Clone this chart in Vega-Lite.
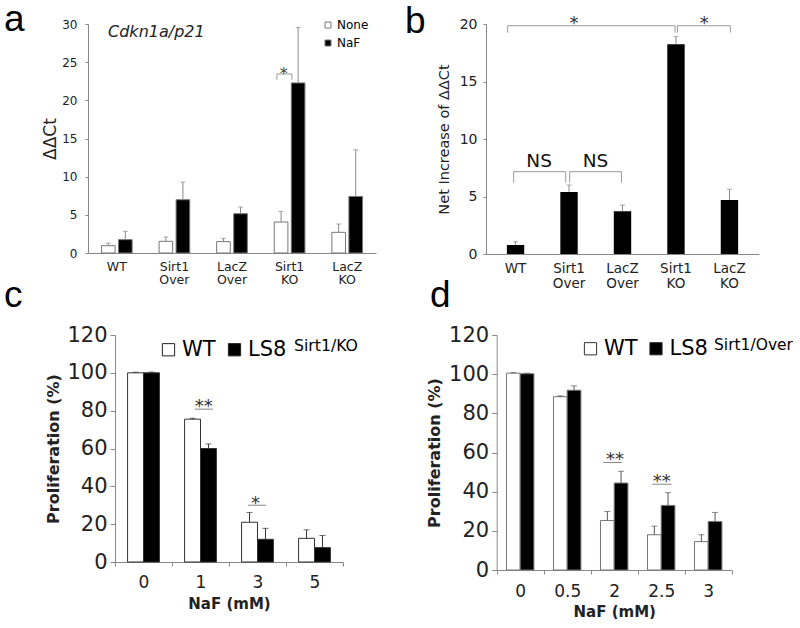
{
  "$schema": "https://vega.github.io/schema/vega-lite/v6.json",
  "background": "white",
  "padding": {"left": 4, "top": 0, "right": 0, "bottom": 0},
  "bounds": "flush",
  "columns": 2,
  "spacing": {"row": 81, "column": 110},
  "resolve": {"scale": {"fill": "independent", "xOffset": "independent"}, "legend": {"fill": "independent"}},
  "config": {
    "font": "DejaVu Sans",
    "view": {"stroke": null},
    "axis": {"domainColor": "#888", "tickColor": "#888", "labelColor": "#222", "titleColor": "#222", "grid": false, "titleFontWeight": "normal", "labelOverlap": false},
    "title": {"anchor": "start", "frame": "group", "fontSize": 37, "fontWeight": "normal", "font": "Liberation Sans", "baseline": "alphabetic", "offset": 0, "color": "#000"},
    "legend": {"padding": 0, "labelColor": "#000", "titleColor": "#000"}
  },
  "datasets": {
    "a": [
      {"group": "WT", "treat": "None", "value": 0.96, "hi": 1.3},
      {"group": "WT", "treat": "NaF", "value": 1.75, "hi": 2.84},
      {"group": "Sirt1 Over", "treat": "None", "value": 1.53, "hi": 2.1},
      {"group": "Sirt1 Over", "treat": "NaF", "value": 6.98, "hi": 9.29},
      {"group": "LacZ Over", "treat": "None", "value": 1.49, "hi": 1.92},
      {"group": "LacZ Over", "treat": "NaF", "value": 5.15, "hi": 6.02},
      {"group": "Sirt1 KO", "treat": "None", "value": 4.06, "hi": 5.45},
      {"group": "Sirt1 KO", "treat": "NaF", "value": 22.28, "hi": 29.55},
      {"group": "LacZ KO", "treat": "None", "value": 2.71, "hi": 3.8},
      {"group": "LacZ KO", "treat": "NaF", "value": 7.41, "hi": 13.52}
    ],
    "aLines": [
      {"x": 2.78, "x2": 3.04, "y": 23.45, "y2": 23.45},
      {"x": 2.78, "x2": 2.78, "y": 22.7, "y2": 23.45},
      {"x": 3.04, "x2": 3.04, "y": 22.7, "y2": 23.45}
    ],
    "aStar": [{"x": 2.9, "y": 22.82, "t": "*"}],
    "aGene": [{"x": -0.152, "y": 28.34, "t": "Cdkn1a/p21"}],
    "b": [
      {"group": "WT", "value": 0.78, "hi": 1.07},
      {"group": "Sirt1 Over", "value": 5.4, "hi": 6.0},
      {"group": "LacZ Over", "value": 3.71, "hi": 4.26},
      {"group": "Sirt1 KO", "value": 18.25, "hi": 18.9},
      {"group": "LacZ KO", "value": 4.7, "hi": 5.63}
    ],
    "bLines": [
      {"x": -0.147, "x2": 2.983, "y": 19.85, "y2": 19.85},
      {"x": -0.147, "x2": -0.147, "y": 19.25, "y2": 19.85},
      {"x": 2.983, "x2": 2.983, "y": 19.25, "y2": 19.85},
      {"x": 3.026, "x2": 4.017, "y": 19.85, "y2": 19.85},
      {"x": 3.026, "x2": 3.026, "y": 19.25, "y2": 19.85},
      {"x": 4.017, "x2": 4.017, "y": 19.25, "y2": 19.85},
      {"x": -0.035, "x2": 0.939, "y": 7.16, "y2": 7.16},
      {"x": -0.035, "x2": -0.035, "y": 6.2, "y2": 7.16},
      {"x": 0.939, "x2": 0.939, "y": 6.2, "y2": 7.16},
      {"x": 1.013, "x2": 1.98, "y": 7.16, "y2": 7.16},
      {"x": 1.013, "x2": 1.013, "y": 6.2, "y2": 7.16},
      {"x": 1.98, "x2": 1.98, "y": 6.2, "y2": 7.16}
    ],
    "bStar": [{"x": 1.093, "y": 19.56, "t": "*"}, {"x": 3.528, "y": 19.56, "t": "*"}],
    "bNS": [{"x": 0.442, "y": 7.57, "t": "NS"}, {"x": 1.496, "y": 7.57, "t": "NS"}],
    "c": [
      {"conc": "0", "series": "WT", "value": 100, "hi": 100.3},
      {"conc": "0", "series": "LS8", "value": 100, "hi": 100.4},
      {"conc": "1", "series": "WT", "value": 75.5, "hi": 76},
      {"conc": "1", "series": "LS8", "value": 60, "hi": 62.4},
      {"conc": "3", "series": "WT", "value": 21, "hi": 26.2},
      {"conc": "3", "series": "LS8", "value": 12, "hi": 17.8},
      {"conc": "5", "series": "WT", "value": 12.5, "hi": 17},
      {"conc": "5", "series": "LS8", "value": 7.6, "hi": 14}
    ],
    "cLines": [
      {"x": 0.899, "x2": 1.219, "y": 80.8, "y2": 80.8},
      {"x": 1.83, "x2": 2.15, "y": 30, "y2": 30}
    ],
    "cStar": [{"x": 1.056, "y": 79.25, "t": "**"}, {"x": 1.965, "y": 28.06, "t": "*"}],
    "d": [
      {"conc": "0", "series": "WT", "value": 100.5, "hi": 100.8},
      {"conc": "0", "series": "LS8", "value": 100.2, "hi": 100.5},
      {"conc": "0.5", "series": "WT", "value": 88.5, "hi": 88.9},
      {"conc": "0.5", "series": "LS8", "value": 91.8, "hi": 94},
      {"conc": "2", "series": "WT", "value": 25.3, "hi": 29.9},
      {"conc": "2", "series": "LS8", "value": 44.4, "hi": 50.4},
      {"conc": "2.5", "series": "WT", "value": 18, "hi": 22.4},
      {"conc": "2.5", "series": "LS8", "value": 33, "hi": 39.5},
      {"conc": "3", "series": "WT", "value": 14.5, "hi": 18},
      {"conc": "3", "series": "LS8", "value": 24.8, "hi": 29.4}
    ],
    "dLines": [
      {"x": 1.768, "x2": 2.16, "y": 54.9, "y2": 54.9},
      {"x": 2.81, "x2": 3.22, "y": 43.8, "y2": 43.8}
    ],
    "dStar": [{"x": 2.017, "y": 53.7, "t": "**"}, {"x": 3.01, "y": 42.6, "t": "**"}]
  },
  "concat": [
    {
      "width": 288,
      "height": 229,
      "title": {"text": "a", "dx": -84, "dy": 24.5},
      "layer": [
        {
          "data": {"name": "a"},
          "encoding": {
            "x": {"field": "group", "type": "nominal", "sort": ["WT", "Sirt1 Over", "LacZ Over", "Sirt1 KO", "LacZ KO"], "scale": {"paddingInner": 0, "paddingOuter": 0}, "axis": {"title": null, "labelAngle": 0, "labelExpr": "split(datum.label, ' ')", "labelBaseline": "top", "labelLineHeight": 13.5, "labelFontSize": 12.5, "labelPadding": 7, "ticks": false}},
            "xOffset": {"field": "treat", "type": "nominal", "sort": ["None", "NaF"], "scale": {"paddingInner": 0.2, "paddingOuter": 0.79}},
            "y": {"field": "value", "type": "quantitative", "scale": {"domain": [0, 30], "nice": false}, "axis": {"title": "ΔΔCt", "values": [0, 5, 10, 15, 20, 25, 30], "labelOverlap": false, "tickSize": 3, "labelPadding": 8, "labelFontSize": 12, "titleFontSize": 17, "titlePadding": 2}}
          },
          "layer": [
            {"mark": {"type": "bar", "stroke": "#777", "strokeWidth": 1}, "encoding": {"fill": {"field": "treat", "type": "nominal", "scale": {"domain": ["None", "NaF"], "range": ["#ffffff", "#000000"]}, "legend": {"title": null, "orient": "none", "legendX": 234, "legendY": -5, "direction": "vertical", "symbolType": "square", "symbolSize": 36, "symbolStrokeColor": "#777", "symbolStrokeWidth": 1, "labelFontSize": 12, "labelOffset": 3, "rowPadding": 6}}}},
            {"mark": {"type": "rule", "color": "#888"}, "encoding": {"y2": {"field": "hi"}}},
            {"mark": {"type": "tick", "color": "#888", "size": 5, "thickness": 1}, "encoding": {"y": {"field": "hi", "type": "quantitative", "scale": {"domain": [0, 30], "nice": false}, "axis": {"title": "ΔΔCt", "values": [0, 5, 10, 15, 20, 25, 30], "labelOverlap": false, "tickSize": 3, "labelPadding": 8, "labelFontSize": 12, "titleFontSize": 17, "titlePadding": 2}}}}
          ]
        },
        {
          "layer": [
            {"data": {"name": "aLines"}, "mark": {"type": "rule", "color": "#999"}, "encoding": {"x": {"field": "x", "type": "quantitative", "scale": {"domain": [-0.5, 4.5], "nice": false, "zero": false}, "axis": null}, "x2": {"field": "x2"}, "y": {"field": "y", "type": "quantitative", "scale": {"domain": [0, 30], "nice": false}, "axis": {"title": "ΔΔCt", "values": [0, 5, 10, 15, 20, 25, 30], "labelOverlap": false, "tickSize": 3, "labelPadding": 8, "labelFontSize": 12, "titleFontSize": 17, "titlePadding": 2}}, "y2": {"field": "y2"}}},
            {"data": {"name": "aStar"}, "mark": {"type": "text", "fontSize": 16, "color": "#444", "align": "center", "baseline": "alphabetic"}, "encoding": {"x": {"field": "x", "type": "quantitative", "scale": {"domain": [-0.5, 4.5], "nice": false, "zero": false}, "axis": null}, "y": {"field": "y", "type": "quantitative", "scale": {"domain": [0, 30], "nice": false}, "axis": {"title": "ΔΔCt", "values": [0, 5, 10, 15, 20, 25, 30], "labelOverlap": false, "tickSize": 3, "labelPadding": 8, "labelFontSize": 12, "titleFontSize": 17, "titlePadding": 2}}, "text": {"field": "t"}}},
            {"data": {"name": "aGene"}, "mark": {"type": "text", "fontSize": 16, "fontStyle": "italic", "color": "#222", "align": "left", "baseline": "alphabetic"}, "encoding": {"x": {"field": "x", "type": "quantitative", "scale": {"domain": [-0.5, 4.5], "nice": false, "zero": false}, "axis": null}, "y": {"field": "y", "type": "quantitative", "scale": {"domain": [0, 30], "nice": false}, "axis": {"title": "ΔΔCt", "values": [0, 5, 10, 15, 20, 25, 30], "labelOverlap": false, "tickSize": 3, "labelPadding": 8, "labelFontSize": 12, "titleFontSize": 17, "titlePadding": 2}}, "text": {"field": "t"}}}
          ]
        }
      ],
      "resolve": {"scale": {"x": "independent"}}
    },
    {
      "width": 273,
      "height": 230,
      "title": {"text": "b", "dx": -81, "dy": 29.5},
      "layer": [
        {
          "data": {"name": "b"},
          "encoding": {
            "x": {"field": "group", "type": "nominal", "sort": ["WT", "Sirt1 Over", "LacZ Over", "Sirt1 KO", "LacZ KO"], "scale": {"paddingInner": 0.675, "paddingOuter": 0.39}, "axis": {"title": null, "labelAngle": 0, "labelExpr": "split(datum.label, ' ')", "labelBaseline": "top", "labelLineHeight": 15.5, "labelFontSize": 13.5, "labelPadding": 7, "ticks": false}},
            "y": {"field": "value", "type": "quantitative", "scale": {"domain": [0, 20], "nice": false}, "axis": {"title": "Net Increase of ΔΔCt", "values": [0, 5, 10, 15, 20], "labelOverlap": false, "tickSize": 3, "labelPadding": 6, "labelFontSize": 14, "titleFontSize": 14.5, "titlePadding": 8}}
          },
          "layer": [
            {"mark": {"type": "bar", "color": "#000"}},
            {"mark": {"type": "rule", "color": "#888"}, "encoding": {"y2": {"field": "hi"}}},
            {"mark": {"type": "tick", "color": "#888", "size": 5, "thickness": 1}, "encoding": {"y": {"field": "hi", "type": "quantitative", "scale": {"domain": [0, 20], "nice": false}, "axis": {"title": "Net Increase of ΔΔCt", "values": [0, 5, 10, 15, 20], "labelOverlap": false, "tickSize": 3, "labelPadding": 6, "labelFontSize": 14, "titleFontSize": 14.5, "titlePadding": 8}}}}
          ]
        },
        {
          "layer": [
            {"data": {"name": "bLines"}, "mark": {"type": "rule", "color": "#999"}, "encoding": {"x": {"field": "x", "type": "quantitative", "scale": {"domain": [-0.552, 4.552], "nice": false, "zero": false}, "axis": null}, "x2": {"field": "x2"}, "y": {"field": "y", "type": "quantitative", "scale": {"domain": [0, 20], "nice": false}, "axis": {"title": "Net Increase of ΔΔCt", "values": [0, 5, 10, 15, 20], "labelOverlap": false, "tickSize": 3, "labelPadding": 6, "labelFontSize": 14, "titleFontSize": 14.5, "titlePadding": 8}}, "y2": {"field": "y2"}}},
            {"data": {"name": "bStar"}, "mark": {"type": "text", "fontSize": 18, "color": "#333", "align": "center", "baseline": "alphabetic"}, "encoding": {"x": {"field": "x", "type": "quantitative", "scale": {"domain": [-0.552, 4.552], "nice": false, "zero": false}, "axis": null}, "y": {"field": "y", "type": "quantitative", "scale": {"domain": [0, 20], "nice": false}, "axis": {"title": "Net Increase of ΔΔCt", "values": [0, 5, 10, 15, 20], "labelOverlap": false, "tickSize": 3, "labelPadding": 6, "labelFontSize": 14, "titleFontSize": 14.5, "titlePadding": 8}}, "text": {"field": "t"}}},
            {"data": {"name": "bNS"}, "mark": {"type": "text", "fontSize": 18.5, "color": "#111", "align": "center", "baseline": "alphabetic"}, "encoding": {"x": {"field": "x", "type": "quantitative", "scale": {"domain": [-0.552, 4.552], "nice": false, "zero": false}, "axis": null}, "y": {"field": "y", "type": "quantitative", "scale": {"domain": [0, 20], "nice": false}, "axis": {"title": "Net Increase of ΔΔCt", "values": [0, 5, 10, 15, 20], "labelOverlap": false, "tickSize": 3, "labelPadding": 6, "labelFontSize": 14, "titleFontSize": 14.5, "titlePadding": 8}}, "text": {"field": "t"}}}
          ]
        }
      ],
      "resolve": {"scale": {"x": "independent"}}
    },
    {
      "width": 255,
      "height": 227,
      "title": {"text": "c", "dx": -84, "dy": -5},
      "layer": [
        {
          "data": {"name": "c"},
          "encoding": {
            "x": {"field": "conc", "type": "nominal", "sort": ["0", "1", "3", "5"], "scale": {"paddingInner": 0, "paddingOuter": 0, "rangeMin": 27}, "axis": {"title": "NaF (mM)", "labelAngle": 0, "tickBand": "extent", "tickSize": 4, "labelFontSize": 17, "labelPadding": 8, "titleFontSize": 15, "titleFontWeight": "bold", "titlePadding": 6}},
            "xOffset": {"field": "series", "type": "nominal", "sort": ["WT", "LS8"], "scale": {"paddingInner": 0, "paddingOuter": 0.79}},
            "y": {"field": "value", "type": "quantitative", "scale": {"domain": [0, 120], "nice": false}, "axis": {"title": "Proliferation (%)", "values": [0, 20, 40, 60, 80, 100, 120], "labelOverlap": false, "offset": -27, "tickSize": 5, "labelFontSize": 21, "labelPadding": 3, "titleFontSize": 16, "titleFontWeight": "bold", "titlePadding": 5}}
          },
          "layer": [
            {"mark": {"type": "bar", "stroke": "#333", "strokeWidth": 1}, "encoding": {"fill": {"field": "series", "type": "nominal", "scale": {"domain": ["WT", "LS8"], "range": ["#ffffff", "#000000"]}, "legend": {"title": "Sirt1/KO", "titleOrient": "right", "titleAnchor": "start", "titleBaseline": "top", "titleFontSize": 15.7, "titleFontWeight": "normal", "titlePadding": 8, "orient": "none", "legendX": 70, "legendY": 4, "direction": "horizontal", "symbolType": "square", "symbolSize": 150, "symbolStrokeColor": "#222", "symbolStrokeWidth": 1, "labelFontSize": 21, "labelOffset": 3, "columnPadding": 8}}}},
            {"mark": {"type": "rule", "color": "#333"}, "encoding": {"y2": {"field": "hi"}}},
            {"mark": {"type": "tick", "color": "#333", "size": 6, "thickness": 1}, "encoding": {"y": {"field": "hi", "type": "quantitative", "scale": {"domain": [0, 120], "nice": false}, "axis": {"title": "Proliferation (%)", "values": [0, 20, 40, 60, 80, 100, 120], "labelOverlap": false, "offset": -27, "tickSize": 5, "labelFontSize": 21, "labelPadding": 3, "titleFontSize": 16, "titleFontWeight": "bold", "titlePadding": 5}}}}
          ]
        },
        {
          "layer": [
            {"data": {"name": "cLines"}, "mark": {"type": "rule", "color": "#888"}, "encoding": {"x": {"field": "x", "type": "quantitative", "scale": {"domain": [-0.5, 3.5], "nice": false, "zero": false, "rangeMin": 27}, "axis": null}, "x2": {"field": "x2"}, "y": {"field": "y", "type": "quantitative", "scale": {"domain": [0, 120], "nice": false}, "axis": {"title": "Proliferation (%)", "values": [0, 20, 40, 60, 80, 100, 120], "labelOverlap": false, "offset": -27, "tickSize": 5, "labelFontSize": 21, "labelPadding": 3, "titleFontSize": 16, "titleFontWeight": "bold", "titlePadding": 5}}, "y2": {"field": "y2"}}},
            {"data": {"name": "cStar"}, "mark": {"type": "text", "fontSize": 18, "color": "#333", "align": "center", "baseline": "alphabetic"}, "encoding": {"x": {"field": "x", "type": "quantitative", "scale": {"domain": [-0.5, 3.5], "nice": false, "zero": false, "rangeMin": 27}, "axis": null}, "y": {"field": "y", "type": "quantitative", "scale": {"domain": [0, 120], "nice": false}, "axis": {"title": "Proliferation (%)", "values": [0, 20, 40, 60, 80, 100, 120], "labelOverlap": false, "offset": -27, "tickSize": 5, "labelFontSize": 21, "labelPadding": 3, "titleFontSize": 16, "titleFontWeight": "bold", "titlePadding": 5}}, "text": {"field": "t"}}}
          ]
        }
      ],
      "resolve": {"scale": {"x": "independent"}}
    },
    {
      "width": 245.7,
      "height": 235,
      "title": {"text": "d", "dx": -56, "dy": -5},
      "layer": [
        {
          "data": {"name": "d"},
          "encoding": {
            "x": {"field": "conc", "type": "nominal", "sort": ["0", "0.5", "2", "2.5", "3"], "scale": {"paddingInner": 0, "paddingOuter": 0, "rangeMin": 10.7}, "axis": {"title": "NaF (mM)", "labelAngle": 0, "tickBand": "extent", "tickSize": 4, "labelFontSize": 17, "labelPadding": 9, "titleFontSize": 15, "titleFontWeight": "bold", "titlePadding": 5}},
            "xOffset": {"field": "series", "type": "nominal", "sort": ["WT", "LS8"], "scale": {"paddingInner": 0, "paddingOuter": 0.715}},
            "y": {"field": "value", "type": "quantitative", "scale": {"domain": [0, 120], "nice": false}, "axis": {"title": "Proliferation (%)", "values": [0, 20, 40, 60, 80, 100, 120], "labelOverlap": false, "offset": -10.7, "tickSize": 5, "labelFontSize": 21, "labelPadding": 3, "titleFontSize": 16, "titleFontWeight": "bold", "titlePadding": 6}}
          },
          "layer": [
            {"mark": {"type": "bar", "stroke": "#777", "strokeWidth": 1}, "encoding": {"fill": {"field": "series", "type": "nominal", "scale": {"domain": ["WT", "LS8"], "range": ["#ffffff", "#000000"]}, "legend": {"title": "Sirt1/Over", "titleOrient": "right", "titleAnchor": "start", "titleBaseline": "top", "titleFontSize": 15.5, "titleFontWeight": "normal", "titlePadding": 6, "orient": "none", "legendX": 94, "legendY": 3, "direction": "horizontal", "symbolType": "square", "symbolSize": 150, "symbolStrokeColor": "#333", "symbolStrokeWidth": 1, "labelFontSize": 21, "labelOffset": 3, "columnPadding": 7.5}}}},
            {"mark": {"type": "rule", "color": "#555"}, "encoding": {"y2": {"field": "hi"}}},
            {"mark": {"type": "tick", "color": "#555", "size": 6, "thickness": 1}, "encoding": {"y": {"field": "hi", "type": "quantitative", "scale": {"domain": [0, 120], "nice": false}, "axis": {"title": "Proliferation (%)", "values": [0, 20, 40, 60, 80, 100, 120], "labelOverlap": false, "offset": -10.7, "tickSize": 5, "labelFontSize": 21, "labelPadding": 3, "titleFontSize": 16, "titleFontWeight": "bold", "titlePadding": 6}}}}
          ]
        },
        {
          "layer": [
            {"data": {"name": "dLines"}, "mark": {"type": "rule", "color": "#888"}, "encoding": {"x": {"field": "x", "type": "quantitative", "scale": {"domain": [-0.5, 4.5], "nice": false, "zero": false, "rangeMin": 10.7}, "axis": null}, "x2": {"field": "x2"}, "y": {"field": "y", "type": "quantitative", "scale": {"domain": [0, 120], "nice": false}, "axis": {"title": "Proliferation (%)", "values": [0, 20, 40, 60, 80, 100, 120], "labelOverlap": false, "offset": -10.7, "tickSize": 5, "labelFontSize": 21, "labelPadding": 3, "titleFontSize": 16, "titleFontWeight": "bold", "titlePadding": 6}}, "y2": {"field": "y2"}}},
            {"data": {"name": "dStar"}, "mark": {"type": "text", "fontSize": 18, "color": "#333", "align": "center", "baseline": "alphabetic"}, "encoding": {"x": {"field": "x", "type": "quantitative", "scale": {"domain": [-0.5, 4.5], "nice": false, "zero": false, "rangeMin": 10.7}, "axis": null}, "y": {"field": "y", "type": "quantitative", "scale": {"domain": [0, 120], "nice": false}, "axis": {"title": "Proliferation (%)", "values": [0, 20, 40, 60, 80, 100, 120], "labelOverlap": false, "offset": -10.7, "tickSize": 5, "labelFontSize": 21, "labelPadding": 3, "titleFontSize": 16, "titleFontWeight": "bold", "titlePadding": 6}}, "text": {"field": "t"}}}
          ]
        }
      ],
      "resolve": {"scale": {"x": "independent"}}
    }
  ]
}
